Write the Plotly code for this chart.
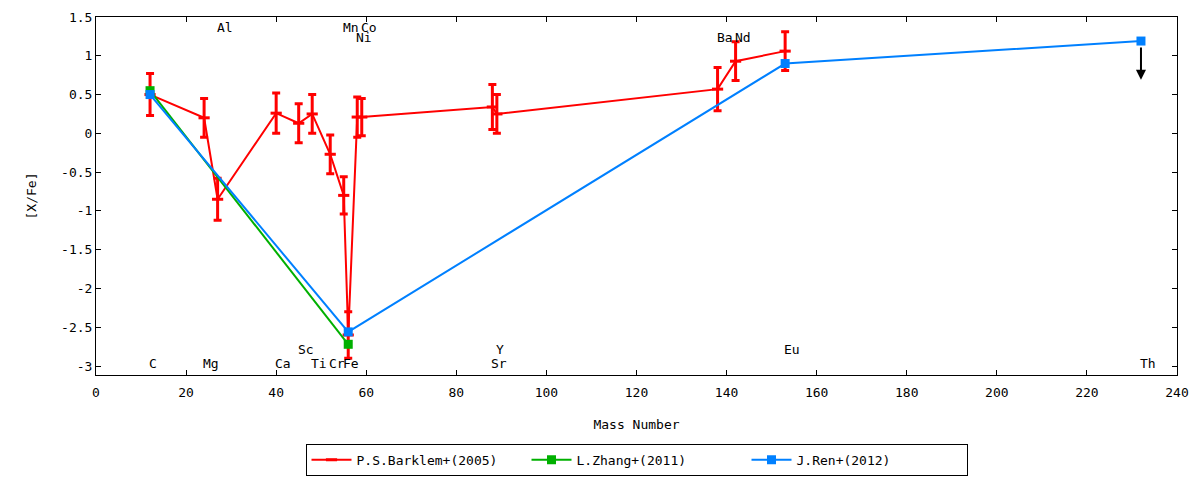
import plotly.graph_objects as go

# ---- data ----
barklem_mass = [12, 24, 27, 40, 45, 48, 52, 55, 56, 58, 59, 88, 89, 138, 142, 153]
barklem_xfe = [0.50, 0.20, -0.85, 0.26, 0.13, 0.25, -0.27, -0.80, -2.60, 0.21, 0.21, 0.34, 0.25, 0.57, 0.93, 1.06]
barklem_err = [0.27, 0.25, 0.27, 0.26, 0.25, 0.25, 0.25, 0.24, 0.30, 0.26, 0.24, 0.29, 0.25, 0.28, 0.25, 0.25]

zhang_mass = [12, 56]
zhang_xfe = [0.55, -2.72]

ren_mass = [12, 56, 153, 232]
ren_xfe = [0.50, -2.56, 0.90, 1.19]

# upper limit (Th)
limit_mass = 232
limit_top = 1.19
limit_bottom = 0.69

# element labels
elem_names = ["Al", "Mn", "Co", "Ni", "Ba", "Nd", "Sc", "Y", "Eu",
              "C", "Mg", "Ca", "Ti", "Cr", "Fe", "Sr", "Th"]
elem_x = [27, 55, 59, 58, 138, 142, 45, 89, 153,
          12, 24, 40, 48, 52, 55, 88, 232]
elem_y = [1.37, 1.37, 1.37, 1.24, 1.24, 1.24, -2.79, -2.79, -2.79,
          -2.97, -2.97, -2.97, -2.97, -2.97, -2.97, -2.97, -2.97]

x_ticks = list(range(0, 241, 20))
y_ticks = [1.5, 1, 0.5, 0, -0.5, -1, -1.5, -2, -2.5, -3]
y_tick_text = ["1.5", "1", "0.5", "0", "-0.5", "-1", "-1.5", "-2", "-2.5", "-3"]

FONT = "DejaVu Sans Mono"
RED = "#ff0000"
GREEN = "#00b000"
BLUE = "#0080ff"

fig = go.Figure()

fig.add_trace(go.Scatter(
    x=barklem_mass, y=barklem_xfe, mode="lines+markers",
    name="P.S.Barklem+(2005)",
    line=dict(color=RED, width=2),
    marker=dict(symbol="line-ew", size=8, color=RED, line=dict(color=RED, width=3)),
    error_y=dict(type="data", array=barklem_err, visible=True, color=RED, thickness=3, width=4),
))

fig.add_trace(go.Scatter(
    x=zhang_mass, y=zhang_xfe, mode="lines+markers",
    name="L.Zhang+(2011)",
    line=dict(color=GREEN, width=2),
    marker=dict(symbol="square", size=9, color=GREEN),
))

fig.add_trace(go.Scatter(
    x=ren_mass, y=ren_xfe, mode="lines+markers",
    name="J.Ren+(2012)",
    line=dict(color=BLUE, width=2),
    marker=dict(symbol="square", size=9, color=BLUE),
))

# upper-limit arrow
fig.add_annotation(
    x=limit_mass, y=limit_bottom, ax=limit_mass, ay=limit_top,
    xref="x", yref="y", axref="x", ayref="y",
    showarrow=True, arrowhead=2, arrowsize=1, arrowwidth=2, arrowcolor="black",
    text="", standoff=0, startstandoff=5,
)

for name, xv, yv in zip(elem_names, elem_x, elem_y):
    fig.add_annotation(
        x=xv, y=yv, xref="x", yref="y", text=name, showarrow=False,
        xanchor="left", yanchor="middle", xshift=-3,
        font=dict(family=FONT, size=13, color="black"),
    )

fig.update_layout(
    width=1200, height=480,
    margin=dict(l=88, r=31, t=9, b=113, autoexpand=False),
    paper_bgcolor="white", plot_bgcolor="white",
    font=dict(family=FONT, size=13, color="black"),
    showlegend=True,
    legend=dict(
        orientation="h", x=0.5, xanchor="center", y=-0.237, yanchor="middle",
        bordercolor="black", borderwidth=1, bgcolor="white",
        entrywidth=165, entrywidthmode="pixels",
        font=dict(family=FONT, size=13),
        itemwidth=40,
    ),
)

fig.update_xaxes(
    range=[0, 240], tickvals=x_ticks, ticktext=[str(v) for v in x_ticks],
    ticks="inside", ticklen=5, tickcolor="black", tickwidth=1,
    showline=True, linecolor="black", linewidth=1, mirror="ticks",
    showgrid=False, zeroline=False, automargin=False, ticklabelstandoff=5,
    title=dict(text="Mass Number", standoff=21, font=dict(family=FONT, size=13)),
)
fig.update_yaxes(
    range=[-3.116, 1.5], tickvals=y_ticks, ticktext=y_tick_text,
    ticks="inside", ticklen=5, tickcolor="black", tickwidth=1,
    showline=True, linecolor="black", linewidth=1, mirror="ticks",
    showgrid=False, zeroline=False, automargin=False,
    title=dict(text="[X/Fe]", standoff=21, font=dict(family=FONT, size=13)),
)

fig.write_html("out.html")
